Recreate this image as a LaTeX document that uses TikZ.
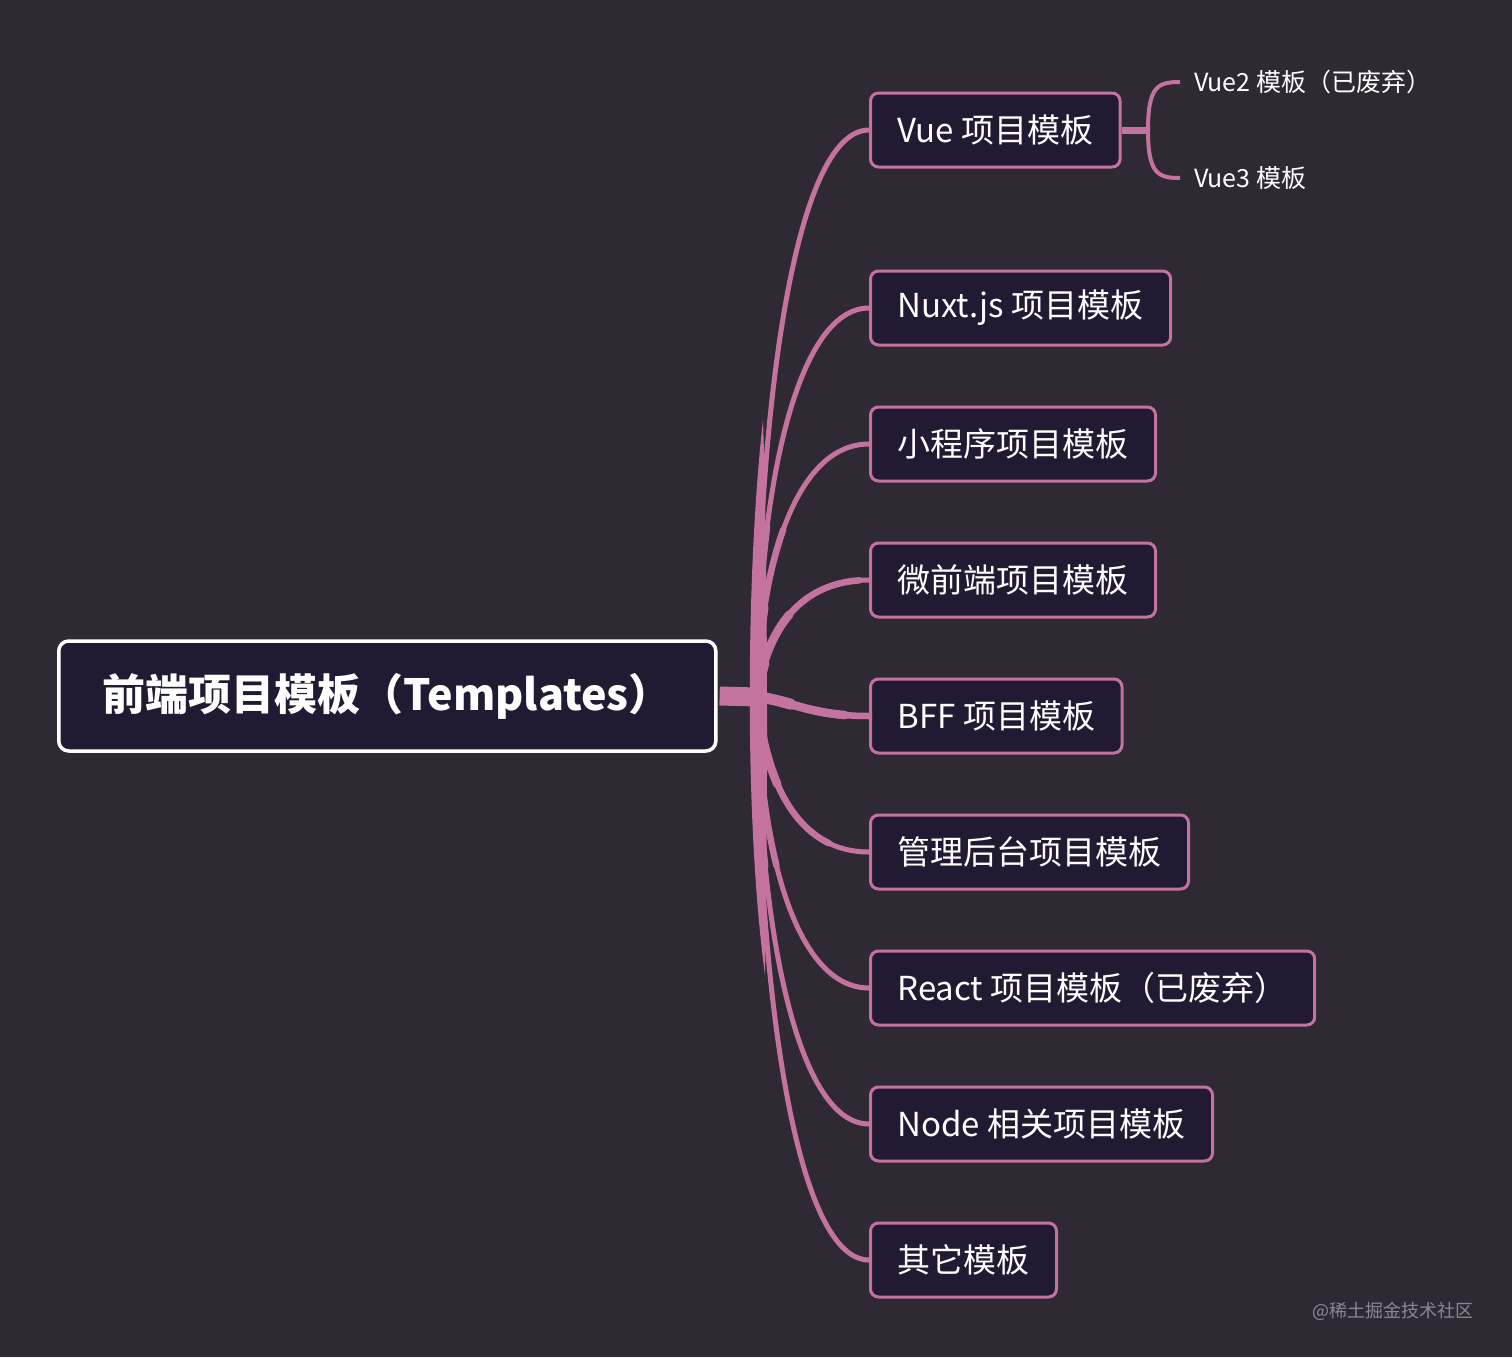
\documentclass[tikz,border=0pt]{standalone}
\usepackage{fontspec}
\setmainfont{Noto Sans CJK SC}
\definecolor{bgdark}{HTML}{2E2933}
\definecolor{boxfill}{HTML}{221A33}
\definecolor{mindpink}{HTML}{C4739F}
\definecolor{credit}{HTML}{8C8792}

\begin{document}
\begin{tikzpicture}[x=1pt,y=-1pt,
  topic/.style={draw=white,line width=3.5pt,fill=boxfill,rounded corners=10pt,text=white,
    font=\fontsize{43}{52}\selectfont\bfseries,inner xsep=44pt,minimum height=110pt,anchor=west},
  template/.style={draw=mindpink,line width=3pt,fill=boxfill,rounded corners=8pt,text=white,
    font=\fontsize{33}{40}\selectfont,inner xsep=27pt,minimum height=74pt,anchor=west},
  leaf/.style={text=white,font=\fontsize{25}{30}\selectfont,inner xsep=14pt,anchor=west},
  branch/.style={draw=mindpink,line width=5pt,
    postaction={draw=mindpink,line width=6.5pt,line cap=round,dash pattern=on 170pt off 5000pt},
    postaction={draw=mindpink,line width=8.5pt,line cap=round,dash pattern=on 90pt off 5000pt},
    postaction={draw=mindpink,line width=11pt,line cap=round,dash pattern=on 35pt off 5000pt}},
  twig/.style={draw=mindpink,line width=4pt}]
  \fill[bgdark] (0,0) rectangle (1512,1357);
  % central topic
  \node[topic]    (root)    at (57,696)   {前端项目模板（Templates）};
  \coordinate     (hub)     at (757,697);
  % templates on the right-hand side
  \node[template] (vue)     at (869,130)  {Vue 项目模板};
  \node[template] (nuxt)    at (869,308)  {Nuxt.js 项目模板};
  \node[template] (mini)    at (869,444)  {小程序项目模板};
  \node[template] (micro)   at (869,580)  {微前端项目模板};
  \node[template] (bff)     at (869,716)  {BFF 项目模板};
  \node[template] (admin)   at (869,852)  {管理后台项目模板};
  \node[template] (react)   at (869,988)  {React 项目模板（已废弃）};
  \node[template] (nodejs)  at (869,1124) {Node 相关项目模板};
  \node[template] (other)   at (869,1260) {其它模板};
  % Vue sub-templates
  \coordinate     (vsplit)  at (1148,130);
  \node[leaf]     (vue2)    at (1180,82)  {Vue2 模板（已废弃）};
  \node[leaf]     (vue3)    at (1180,178) {Vue3 模板};
  \node[credit,font=\fontsize{18}{22}\selectfont,anchor=east] (site) at (1477,1311) {@稀土掘金技术社区};
  % connectors
  \fill[mindpink] (763,420) .. controls (746,570) and (744,820) .. (765,975)
                            .. controls (768,820) and (768,570) .. (763,420) -- cycle;
  \draw[mindpink,line width=19pt] ([xshift=2pt]root.east) -- (hub);
  \draw[branch] (hub) .. controls (757,414) and ([xshift=-75pt]vue.west) .. (vue.west);
  \draw[branch] (hub) .. controls (757,503) and ([xshift=-75pt]nuxt.west) .. (nuxt.west);
  \draw[branch] (hub) .. controls (759,571) and ([xshift=-75pt]mini.west) .. (mini.west);
  \draw[branch] (hub) .. controls (764,639) and ([xshift=-75pt]micro.west) .. (micro.west);
  \draw[branch] (hub) .. controls (790,700) and ([xshift=-60pt]bff.west) .. (bff.west);
  \draw[branch] (hub) .. controls (764,775) and ([xshift=-75pt]admin.west) .. (admin.west);
  \draw[branch] (hub) .. controls (759,843) and ([xshift=-75pt]react.west) .. (react.west);
  \draw[branch] (hub) .. controls (757,911) and ([xshift=-75pt]nodejs.west) .. (nodejs.west);
  \draw[branch] (hub) .. controls (757,979) and ([xshift=-75pt]other.west) .. (other.west);
  \draw[mindpink,line width=7pt] (vue.east) -- (vsplit);
  \draw[twig] (vsplit) .. controls (1148,86) and (1158,82) .. (vue2.west);
  \draw[twig] (vsplit) .. controls (1148,174) and (1158,178) .. (vue3.west);
\end{tikzpicture}
\end{document}
